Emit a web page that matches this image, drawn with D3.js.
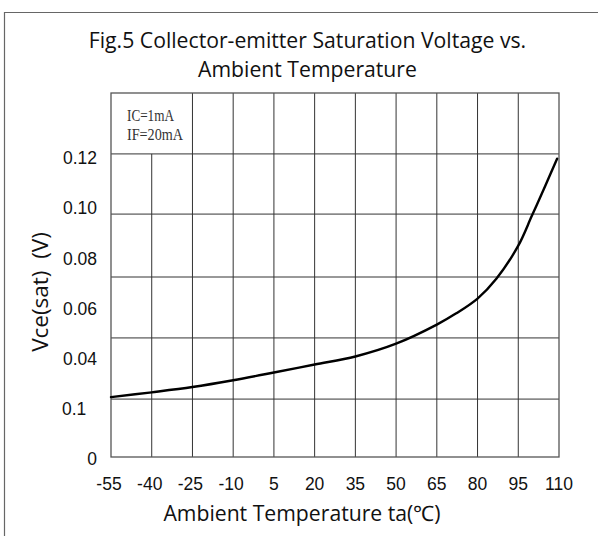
<!DOCTYPE html>
<html><head><meta charset="utf-8">
<script src="https://cdn.jsdelivr.net/npm/d3@7"></script>
<style>html,body{margin:0;padding:0;background:#fff;}svg{display:block;}</style>
</head><body>
<svg id="chart" width="598" height="536"></svg>
<script>
// ---- data ----
const titleLines = ["Fig.5 Collector-emitter Saturation Voltage vs.", "Ambient Temperature"];
const xTickValues = [-55, -40, -25, -10, 5, 20, 35, 50, 65, 80, 95, 110];
const yTickValues = [0, 0.02, 0.04, 0.06, 0.08, 0.10, 0.12];
const yTickLabels = ["0", "0.1", "0.04", "0.06", "0.08", "0.10", "0.12"];
const yGridValues = [0.0231, 0.0475, 0.0718, 0.0969, 0.1209];
const temps = [-55, -40, -25, -10, 5, 20, 35, 50, 65, 72, 80, 87, 95, 100, 105, 109.3];
const vce   = [0.0239, 0.0258, 0.0279, 0.0306, 0.0337, 0.0369, 0.0401, 0.0452, 0.0528, 0.0572, 0.0632, 0.0712, 0.0843, 0.0962, 0.1083, 0.119];
const conditions = ["IC=1mA", "IF=20mA"];
const xTitle = "Ambient Temperature ta(\u2103)";
const yTitle = "Vce(sat)\u00a0\u00a0(V)";

// ---- layout ----
const svg = d3.select("#chart");
const L = 111, R = 559, T = 93, B = 457;
const x = d3.scaleLinear().domain([-55, 110]).range([L, R]);
const y = d3.scaleLinear().domain([0, 0.1452]).range([B, T]);

// outer frame (open on right and bottom)
svg.append("path").attr("d", `M4.5,536 V12.5 H598`).attr("fill", "none")
  .attr("stroke", "#666").attr("stroke-width", 1.2);

// title
svg.append("g").selectAll("text").data(titleLines).join("text")
  .attr("x", 307.5).attr("y", (d, i) => 48 + i * 29)
  .attr("text-anchor", "middle")
  .attr("font-family", "'Open Sans', sans-serif").attr("font-size", 21.2)
  .attr("fill", "#111").text(d => d);

// grid
const grid = svg.append("g").attr("stroke", "#333").attr("stroke-width", 1);
grid.selectAll("line.v").data(xTickValues.slice(1, -1)).join("line")
  .attr("x1", d => x(d)).attr("x2", d => x(d))
  .attr("y1", (d, i) => i === 0 ? y(yGridValues[yGridValues.length - 1]) : T)
  .attr("y2", B);
grid.selectAll("line.h").data(yGridValues).join("line")
  .attr("x1", L).attr("x2", R).attr("y1", d => y(d)).attr("y2", d => y(d));

// plot border
svg.append("rect").attr("x", L).attr("y", T).attr("width", R - L).attr("height", B - T)
  .attr("fill", "none").attr("stroke", "#555").attr("stroke-width", 1.3);

// conditions
const condWidths = [47, 56];
svg.append("g").selectAll("text").data(conditions).join("text")
  .attr("x", 127).attr("y", (d, i) => 121 + i * 19)
  .attr("font-family", "'Liberation Serif', serif").attr("font-size", 16)
  .attr("textLength", (d, i) => condWidths[i]).attr("lengthAdjust", "spacingAndGlyphs")
  .attr("fill", "#333").text(d => d);

// curve
const line = d3.line().x(d => x(d[0])).y(d => y(d[1])).curve(d3.curveCatmullRom.alpha(0.5));
svg.append("path").datum(temps.map((t, i) => [t, vce[i]]))
  .attr("d", line).attr("fill", "none").attr("stroke", "#000").attr("stroke-width", 2.4)
  .attr("stroke-linejoin", "round").attr("stroke-linecap", "round");

// x tick labels
svg.append("g").selectAll("text").data(xTickValues).join("text")
  .attr("x", d => x(d) - (d < 0 ? 2 : 0)).attr("y", 490)
  .attr("text-anchor", "middle")
  .attr("font-family", "'Liberation Sans', Arial, sans-serif").attr("font-size", 17.5)
  .attr("fill", "#111").text(d => d);

// y tick labels
svg.append("g").selectAll("text").data(yTickValues).join("text")
  .attr("x", (d, i) => yTickLabels[i].length === 3 ? 62 : 97)
  .attr("y", d => y(d) + 2).attr("dy", "0.35em")
  .attr("text-anchor", (d, i) => yTickLabels[i].length === 3 ? "start" : "end")
  .attr("font-family", "'Liberation Sans', Arial, sans-serif").attr("font-size", 17.5)
  .attr("fill", "#111").text((d, i) => yTickLabels[i]);

// axis titles
svg.append("text").attr("x", 302).attr("y", 521).attr("text-anchor", "middle")
  .attr("font-family", "'Open Sans', sans-serif").attr("font-size", 21.2)
  .attr("fill", "#111").text(xTitle);
svg.append("text").attr("transform", "translate(48,292) rotate(-90)").attr("text-anchor", "middle")
  .attr("font-family", "'Open Sans', sans-serif").attr("font-size", 22.5)
  .attr("fill", "#111").text(yTitle);
</script>
</body></html>
